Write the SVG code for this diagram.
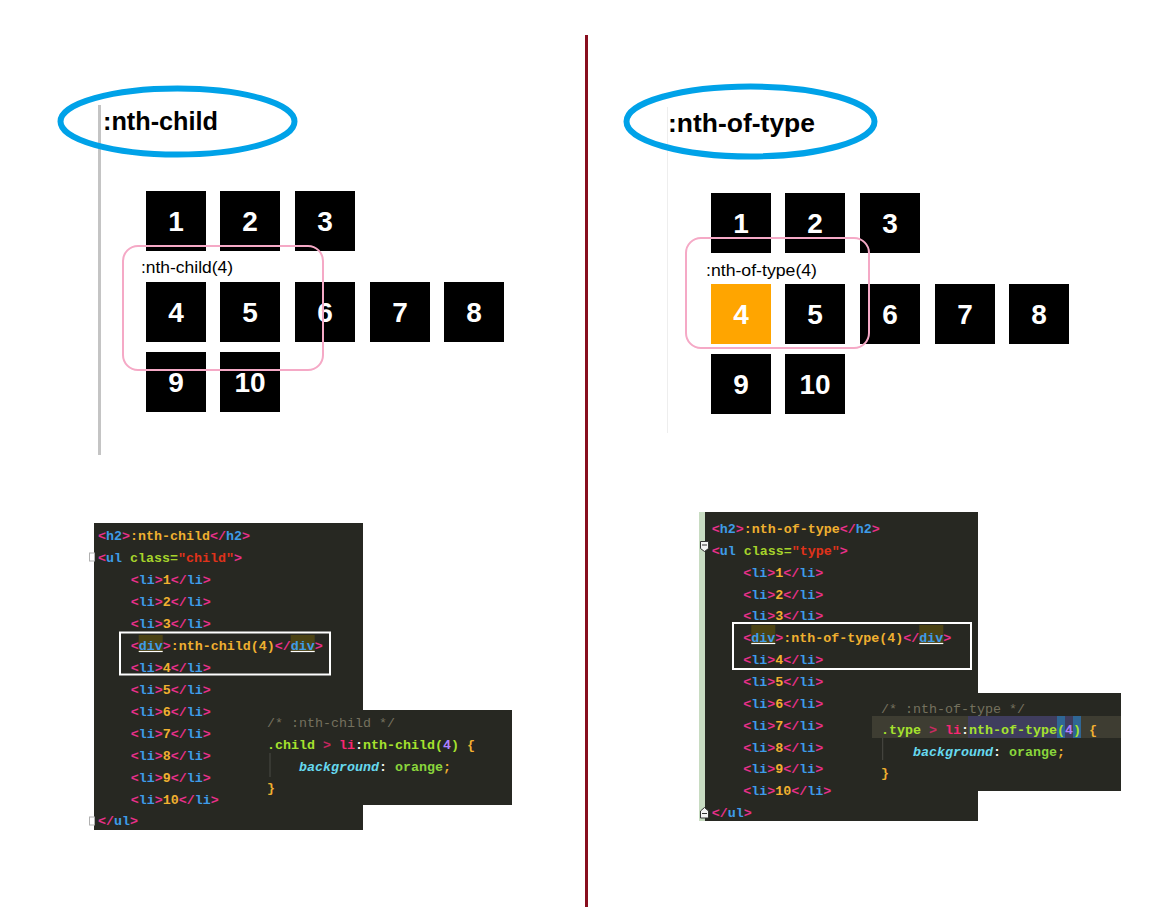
<svg xmlns="http://www.w3.org/2000/svg" width="1160" height="918" viewBox="0 0 1160 918">
<style>
.title{font-family:"Liberation Sans",Arial,sans-serif;font-weight:bold;font-size:25px;fill:#000}
.box{fill:#000}
.num{font-family:"Liberation Sans",Arial,sans-serif;font-weight:bold;font-size:28px;fill:#fff;text-anchor:middle}
.lbl{font-family:"Liberation Sans",Arial,sans-serif;font-size:16px;fill:#000}
.oval{fill:none;stroke:#00a2e8;stroke-width:6}
.frame{fill:none;stroke:#f5a9c6;stroke-width:2}
.code{font-family:"Liberation Mono","Courier New",monospace;font-size:13.33px;font-weight:bold;white-space:pre}
.bg{fill:#272822}
.b{fill:#e8308a}
.t{fill:#3e9ce8}
.x{fill:#f0b030}
.a{fill:#a6d42b}
.v{fill:#e0321a}
.c{fill:#75715e}
.g{fill:#a6e22e}
.pk{fill:#f92672}
.p{fill:#ae81ff}
.cy{fill:#66d9ef;font-style:italic}
.w{fill:#f8f8f2}
.og{fill:#8ad53c}
.hl{fill:#4a4214}
.sel{fill:none;stroke:#fff;stroke-width:2}
</style>

<!-- divider -->
<g id="divider">
<rect x="585" y="35" width="3" height="872" fill="#880e1e"/>
</g>

<!-- left panel -->
<g id="left-panel">
<rect x="98" y="105" width="3" height="350" fill="#c4c4c4"/>
<ellipse class="oval" cx="177.5" cy="121.5" rx="117" ry="33"/>
<text class="title" x="103" y="130" textLength="115" lengthAdjust="spacingAndGlyphs">:nth-child</text>
</g>

<g id="left-items">
<rect class="box" x="146" y="191" width="60" height="60"/><text class="num" x="176" y="231">1</text>
<rect class="box" x="220" y="191" width="60" height="60"/><text class="num" x="250" y="231">2</text>
<rect class="box" x="295" y="191" width="60" height="60"/><text class="num" x="325" y="231">3</text>
<rect class="box" x="146" y="282" width="60" height="60"/><text class="num" x="176" y="322">4</text>
<rect class="box" x="220" y="282" width="60" height="60"/><text class="num" x="250" y="322">5</text>
<rect class="box" x="295" y="282" width="60" height="60"/><text class="num" x="325" y="322">6</text>
<rect class="box" x="370" y="282" width="60" height="60"/><text class="num" x="400" y="322">7</text>
<rect class="box" x="444" y="282" width="60" height="60"/><text class="num" x="474" y="322">8</text>
<rect class="box" x="146" y="352" width="60" height="60"/><text class="num" x="176" y="392">9</text>
<rect class="box" x="220" y="352" width="60" height="60"/><text class="num" x="250" y="392">10</text>
</g>

<g id="left-highlight">
<rect class="frame" x="123" y="246" width="200" height="124" rx="15"/>
<text class="lbl" x="141" y="273" textLength="92" lengthAdjust="spacingAndGlyphs">:nth-child(4)</text>
</g>

<!-- right panel -->
<g id="right-panel">
<rect x="667" y="107" width="1" height="326" fill="#eeeeee"/>
<ellipse class="oval" cx="750.5" cy="121.5" rx="124" ry="35"/>
<text class="title" x="668" y="132" textLength="147" lengthAdjust="spacingAndGlyphs">:nth-of-type</text>
</g>

<g id="right-items">
<rect class="box" x="711" y="193" width="60" height="60"/><text class="num" x="741" y="233">1</text>
<rect class="box" x="785" y="193" width="60" height="60"/><text class="num" x="815" y="233">2</text>
<rect class="box" x="860" y="193" width="60" height="60"/><text class="num" x="890" y="233">3</text>
<rect x="711" y="284" width="60" height="60" fill="#ffa500"/><text class="num" x="741" y="324">4</text>
<rect class="box" x="785" y="284" width="60" height="60"/><text class="num" x="815" y="324">5</text>
<rect class="box" x="860" y="284" width="60" height="60"/><text class="num" x="890" y="324">6</text>
<rect class="box" x="935" y="284" width="60" height="60"/><text class="num" x="965" y="324">7</text>
<rect class="box" x="1009" y="284" width="60" height="60"/><text class="num" x="1039" y="324">8</text>
<rect class="box" x="711" y="354" width="60" height="60"/><text class="num" x="741" y="394">9</text>
<rect class="box" x="785" y="354" width="60" height="60"/><text class="num" x="815" y="394">10</text>
</g>

<g id="right-highlight">
<rect class="frame" x="686" y="238" width="183" height="110" rx="15"/>
<text class="lbl" x="706" y="276" textLength="111" lengthAdjust="spacingAndGlyphs">:nth-of-type(4)</text>
</g>

<!-- left HTML code -->
<g id="left-html">
<rect class="bg" x="94" y="523" width="269" height="307"/>
<rect x="89.5" y="553" width="5" height="8" fill="none" stroke="#b0b0b0" stroke-width="1"/>
<rect x="89.5" y="817" width="5" height="8" fill="none" stroke="#b0b0b0" stroke-width="1"/>
<rect class="hl" x="138.7" y="635" width="24" height="17"/>
<rect class="hl" x="290.7" y="635" width="24" height="17"/>
<line x1="138.7" y1="651.5" x2="162.7" y2="651.5" stroke="#fff" stroke-width="1.2"/>
<line x1="290.7" y1="651.5" x2="314.7" y2="651.5" stroke="#fff" stroke-width="1.2"/>
<g class="code">
<text x="98" y="540"><tspan class="b">&lt;</tspan><tspan class="t">h2</tspan><tspan class="b">&gt;</tspan><tspan class="x">:nth-child</tspan><tspan class="b">&lt;/</tspan><tspan class="t">h2</tspan><tspan class="b">&gt;</tspan></text>
<text x="98" y="562"><tspan class="b">&lt;</tspan><tspan class="t">ul</tspan><tspan class="a"> class=</tspan><tspan class="v">"child"</tspan><tspan class="b">&gt;</tspan></text>
<text x="130.7" y="584"><tspan class="b">&lt;</tspan><tspan class="t">li</tspan><tspan class="b">&gt;</tspan><tspan class="x">1</tspan><tspan class="b">&lt;/</tspan><tspan class="t">li</tspan><tspan class="b">&gt;</tspan></text>
<text x="130.7" y="606"><tspan class="b">&lt;</tspan><tspan class="t">li</tspan><tspan class="b">&gt;</tspan><tspan class="x">2</tspan><tspan class="b">&lt;/</tspan><tspan class="t">li</tspan><tspan class="b">&gt;</tspan></text>
<text x="130.7" y="628"><tspan class="b">&lt;</tspan><tspan class="t">li</tspan><tspan class="b">&gt;</tspan><tspan class="x">3</tspan><tspan class="b">&lt;/</tspan><tspan class="t">li</tspan><tspan class="b">&gt;</tspan></text>
<text x="130.7" y="650"><tspan class="b">&lt;</tspan><tspan class="t">div</tspan><tspan class="b">&gt;</tspan><tspan class="x">:nth-child(4)</tspan><tspan class="b">&lt;/</tspan><tspan class="t">div</tspan><tspan class="b">&gt;</tspan></text>
<text x="130.7" y="672"><tspan class="b">&lt;</tspan><tspan class="t">li</tspan><tspan class="b">&gt;</tspan><tspan class="x">4</tspan><tspan class="b">&lt;/</tspan><tspan class="t">li</tspan><tspan class="b">&gt;</tspan></text>
<text x="130.7" y="694"><tspan class="b">&lt;</tspan><tspan class="t">li</tspan><tspan class="b">&gt;</tspan><tspan class="x">5</tspan><tspan class="b">&lt;/</tspan><tspan class="t">li</tspan><tspan class="b">&gt;</tspan></text>
<text x="130.7" y="716"><tspan class="b">&lt;</tspan><tspan class="t">li</tspan><tspan class="b">&gt;</tspan><tspan class="x">6</tspan><tspan class="b">&lt;/</tspan><tspan class="t">li</tspan><tspan class="b">&gt;</tspan></text>
<text x="130.7" y="738"><tspan class="b">&lt;</tspan><tspan class="t">li</tspan><tspan class="b">&gt;</tspan><tspan class="x">7</tspan><tspan class="b">&lt;/</tspan><tspan class="t">li</tspan><tspan class="b">&gt;</tspan></text>
<text x="130.7" y="760"><tspan class="b">&lt;</tspan><tspan class="t">li</tspan><tspan class="b">&gt;</tspan><tspan class="x">8</tspan><tspan class="b">&lt;/</tspan><tspan class="t">li</tspan><tspan class="b">&gt;</tspan></text>
<text x="130.7" y="782"><tspan class="b">&lt;</tspan><tspan class="t">li</tspan><tspan class="b">&gt;</tspan><tspan class="x">9</tspan><tspan class="b">&lt;/</tspan><tspan class="t">li</tspan><tspan class="b">&gt;</tspan></text>
<text x="130.7" y="804"><tspan class="b">&lt;</tspan><tspan class="t">li</tspan><tspan class="b">&gt;</tspan><tspan class="x">10</tspan><tspan class="b">&lt;/</tspan><tspan class="t">li</tspan><tspan class="b">&gt;</tspan></text>
<text x="98" y="825"><tspan class="b">&lt;/</tspan><tspan class="t">ul</tspan><tspan class="b">&gt;</tspan></text>
</g>
<rect class="sel" x="120" y="632.5" width="210" height="42"/>
</g>

<!-- left CSS code -->
<g id="left-css">
<rect class="bg" x="258" y="710" width="254" height="95"/>
<line x1="270" y1="753" x2="270" y2="777" stroke="#4a4a44" stroke-width="1"/>
<g class="code">
<text x="267" y="727"><tspan class="c" style="font-weight:normal">/* :nth-child */</tspan></text>
<text x="267" y="748.5"><tspan class="g">.child </tspan><tspan class="pk" style="opacity:.75">&gt;</tspan><tspan class="g"> </tspan><tspan class="pk">li</tspan><tspan class="w">:</tspan><tspan class="g">nth-child(</tspan><tspan class="p">4</tspan><tspan class="g">)</tspan><tspan class="x"> {</tspan></text>
<text x="299" y="771"><tspan class="cy">background</tspan><tspan class="w">: </tspan><tspan class="og">orange</tspan><tspan class="x">;</tspan></text>
<text x="267" y="792"><tspan class="x">}</tspan></text>
</g>
</g>

<!-- right HTML code -->
<g id="right-html">
<rect class="bg" x="699" y="512" width="279" height="309"/>
<rect x="699" y="512" width="6" height="309" fill="#c8dcc2"/>
<path d="M700.5,541.5 h8 v7 l-4,3 l-4,-3 z" fill="#f4f4f4" stroke="#333" stroke-width="1"/>
<line x1="702" y1="545" x2="707" y2="545" stroke="#333" stroke-width="1"/>
<path d="M700.5,818 h8 v-7 l-4,-3.5 l-4,3.5 z" fill="#f4f4f4" stroke="#333" stroke-width="1"/>
<line x1="702" y1="813.5" x2="707" y2="813.5" stroke="#333" stroke-width="1"/>
<rect class="hl" x="751.3" y="625" width="24" height="19"/>
<rect class="hl" x="919.3" y="625" width="24" height="19"/>
<line x1="751.3" y1="643.5" x2="775.3" y2="643.5" stroke="#fff" stroke-width="1.2"/>
<line x1="919.3" y1="643.5" x2="943.3" y2="643.5" stroke="#fff" stroke-width="1.2"/>
<g class="code">
<text x="711.7" y="533"><tspan class="b">&lt;</tspan><tspan class="t">h2</tspan><tspan class="b">&gt;</tspan><tspan class="x">:nth-of-type</tspan><tspan class="b">&lt;/</tspan><tspan class="t">h2</tspan><tspan class="b">&gt;</tspan></text>
<text x="711.7" y="554.8"><tspan class="b">&lt;</tspan><tspan class="t">ul</tspan><tspan class="a"> class=</tspan><tspan class="v">"type"</tspan><tspan class="b">&gt;</tspan></text>
<text x="743.3" y="576.7"><tspan class="b">&lt;</tspan><tspan class="t">li</tspan><tspan class="b">&gt;</tspan><tspan class="x">1</tspan><tspan class="b">&lt;/</tspan><tspan class="t">li</tspan><tspan class="b">&gt;</tspan></text>
<text x="743.3" y="598.5"><tspan class="b">&lt;</tspan><tspan class="t">li</tspan><tspan class="b">&gt;</tspan><tspan class="x">2</tspan><tspan class="b">&lt;/</tspan><tspan class="t">li</tspan><tspan class="b">&gt;</tspan></text>
<text x="743.3" y="620.4"><tspan class="b">&lt;</tspan><tspan class="t">li</tspan><tspan class="b">&gt;</tspan><tspan class="x">3</tspan><tspan class="b">&lt;/</tspan><tspan class="t">li</tspan><tspan class="b">&gt;</tspan></text>
<text x="743.3" y="642.2"><tspan class="b">&lt;</tspan><tspan class="t">div</tspan><tspan class="b">&gt;</tspan><tspan class="x">:nth-of-type(4)</tspan><tspan class="b">&lt;/</tspan><tspan class="t">div</tspan><tspan class="b">&gt;</tspan></text>
<text x="743.3" y="664.1"><tspan class="b">&lt;</tspan><tspan class="t">li</tspan><tspan class="b">&gt;</tspan><tspan class="x">4</tspan><tspan class="b">&lt;/</tspan><tspan class="t">li</tspan><tspan class="b">&gt;</tspan></text>
<text x="743.3" y="686"><tspan class="b">&lt;</tspan><tspan class="t">li</tspan><tspan class="b">&gt;</tspan><tspan class="x">5</tspan><tspan class="b">&lt;/</tspan><tspan class="t">li</tspan><tspan class="b">&gt;</tspan></text>
<text x="743.3" y="707.8"><tspan class="b">&lt;</tspan><tspan class="t">li</tspan><tspan class="b">&gt;</tspan><tspan class="x">6</tspan><tspan class="b">&lt;/</tspan><tspan class="t">li</tspan><tspan class="b">&gt;</tspan></text>
<text x="743.3" y="729.6"><tspan class="b">&lt;</tspan><tspan class="t">li</tspan><tspan class="b">&gt;</tspan><tspan class="x">7</tspan><tspan class="b">&lt;/</tspan><tspan class="t">li</tspan><tspan class="b">&gt;</tspan></text>
<text x="743.3" y="751.5"><tspan class="b">&lt;</tspan><tspan class="t">li</tspan><tspan class="b">&gt;</tspan><tspan class="x">8</tspan><tspan class="b">&lt;/</tspan><tspan class="t">li</tspan><tspan class="b">&gt;</tspan></text>
<text x="743.3" y="773.3"><tspan class="b">&lt;</tspan><tspan class="t">li</tspan><tspan class="b">&gt;</tspan><tspan class="x">9</tspan><tspan class="b">&lt;/</tspan><tspan class="t">li</tspan><tspan class="b">&gt;</tspan></text>
<text x="743.3" y="795.2"><tspan class="b">&lt;</tspan><tspan class="t">li</tspan><tspan class="b">&gt;</tspan><tspan class="x">10</tspan><tspan class="b">&lt;/</tspan><tspan class="t">li</tspan><tspan class="b">&gt;</tspan></text>
<text x="711.7" y="817"><tspan class="b">&lt;/</tspan><tspan class="t">ul</tspan><tspan class="b">&gt;</tspan></text>
</g>
<rect class="sel" x="733" y="623" width="238" height="46"/>
</g>

<!-- right CSS code -->
<g id="right-css">
<rect class="bg" x="872" y="693" width="249" height="98"/>
<rect x="872" y="716" width="249" height="22" fill="#3e3d32"/>
<rect x="968" y="716" width="113" height="22" fill="#3f3d5e"/>
<rect x="1057" y="716" width="8" height="22" fill="#2f6695"/>
<rect x="1073" y="716" width="8" height="22" fill="#2f6695"/>
<line x1="882.7" y1="738" x2="882.7" y2="760" stroke="#4a4a44" stroke-width="1"/>
<g class="code">
<text x="881" y="712.5"><tspan class="c" style="font-weight:normal">/* :nth-of-type */</tspan></text>
<text x="881" y="733.5"><tspan class="g">.type </tspan><tspan class="pk" style="opacity:.75">&gt;</tspan><tspan class="g"> </tspan><tspan class="pk">li</tspan><tspan class="w">:</tspan><tspan class="g">nth-of-type(</tspan><tspan class="p">4</tspan><tspan class="g">)</tspan><tspan class="x"> {</tspan></text>
<text x="913" y="756"><tspan class="cy">background</tspan><tspan class="w">: </tspan><tspan class="og">orange</tspan><tspan class="x">;</tspan></text>
<text x="881" y="777"><tspan class="x">}</tspan></text>
</g>
</g>
</svg>
